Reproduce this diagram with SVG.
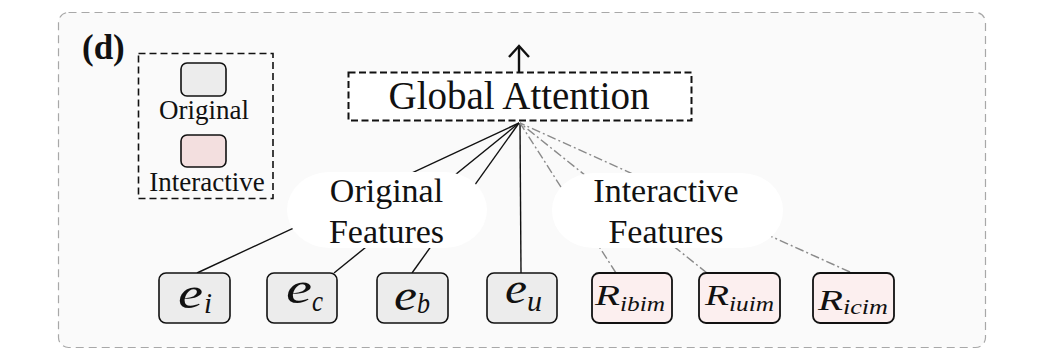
<svg xmlns="http://www.w3.org/2000/svg" width="1040" height="356" viewBox="0 0 1040 356">
  <style>
    .serif { font-family: "Liberation Serif", "Times New Roman", serif; fill: #111; }
    .math { font-family: "Liberation Serif", "Times New Roman", serif; font-style: italic; fill: #111; }
    .orig { fill: #ececec; stroke: #111; stroke-width: 1.6; }
    .inter { fill: #fcefef; stroke: #111; stroke-width: 1.8; }
    .solid { stroke: #111; stroke-width: 1.4; fill: none; }
    .dashdot { stroke: #8a8a8a; stroke-width: 1.4; fill: none; stroke-dasharray: 9 3 2 3; }
    .bubble { fill: #ffffff; stroke: none; }
  </style>

  <!-- panel frame -->
  <rect id="panel" x="58.5" y="12.5" width="927" height="335" rx="10" fill="#fafafa" stroke="#a8a8a8" stroke-width="1.2" stroke-dasharray="8 5"/>
  <text id="panel-label" class="serif" x="82" y="59" font-size="35" font-weight="bold">(d)</text>

  <!-- legend -->
  <g id="legend">
    <rect x="138.5" y="53.5" width="134.5" height="145" fill="none" stroke="#111" stroke-width="1.6" stroke-dasharray="7 4"/>
    <rect class="orig" x="181" y="63" width="45" height="33" rx="6"/>
    <text class="serif" x="204" y="119" font-size="27" text-anchor="middle">Original</text>
    <rect x="181" y="135" width="45" height="32" rx="6" fill="#f3dfdf" stroke="#111" stroke-width="1.6"/>
    <text class="serif" x="207" y="191" font-size="27" text-anchor="middle">Interactive</text>
  </g>

  <!-- connectors: all converge under the attention block -->
  <g id="connectors">
    <line class="solid" x1="197" y1="273" x2="519" y2="123"/>
    <line class="solid" x1="334" y1="273" x2="519" y2="123"/>
    <line class="solid" x1="412" y1="273" x2="519" y2="123"/>
    <line class="solid" x1="521" y1="273" x2="520" y2="123"/>
    <line class="dashdot" x1="616" y1="273" x2="520" y2="123"/>
    <line class="dashdot" x1="707" y1="273" x2="520" y2="123"/>
    <line class="dashdot" x1="850" y1="272" x2="520" y2="123"/>
    <!-- output arrow -->
    <line x1="519" y1="72" x2="519" y2="47" stroke="#111" stroke-width="2.4"/>
    <polyline points="509,57 519,46 529,57" fill="none" stroke="#111" stroke-width="2.4" stroke-linejoin="miter"/>
  </g>

  <!-- group labels on white bubbles -->
  <g id="original-features">
    <rect class="bubble" x="287" y="172" width="200" height="76" rx="42" ry="38"/>
    <text class="serif" x="386.5" y="202" font-size="34" text-anchor="middle">Original</text>
    <text class="serif" x="386.5" y="243" font-size="34" text-anchor="middle">Features</text>
  </g>
  <g id="interactive-features">
    <rect class="bubble" x="552" y="173" width="231" height="75" rx="42" ry="37"/>
    <text class="serif" x="666" y="202" font-size="34" text-anchor="middle">Interactive</text>
    <text class="serif" x="666" y="243" font-size="34" text-anchor="middle">Features</text>
  </g>

  <!-- attention block -->
  <g id="global-attention">
    <rect x="348.5" y="72.5" width="343" height="48" fill="#ffffff" stroke="#111" stroke-width="2" stroke-dasharray="7 3.5"/>
    <text class="serif" x="519" y="109" font-size="39" text-anchor="middle">Global Attention</text>
  </g>

  <!-- feature nodes -->
  <g id="node-ei">
    <rect class="orig" x="159" y="273" width="71" height="50" rx="7"/>
    <text class="math" x="178" y="308" font-size="44" textLength="25" lengthAdjust="spacingAndGlyphs">e</text>
    <text class="math" x="204" y="313" font-size="29" textLength="8" lengthAdjust="spacingAndGlyphs">i</text>
  </g>
  <g id="node-ec">
    <rect class="orig" x="267" y="273" width="70" height="50" rx="7"/>
    <text class="math" x="286" y="303" font-size="44" textLength="26" lengthAdjust="spacingAndGlyphs">e</text>
    <text class="math" x="312" y="311" font-size="29" textLength="11" lengthAdjust="spacingAndGlyphs">c</text>
  </g>
  <g id="node-eb">
    <rect class="orig" x="377" y="273" width="71" height="50" rx="7"/>
    <text class="math" x="394" y="310" font-size="44" textLength="23" lengthAdjust="spacingAndGlyphs">e</text>
    <text class="math" x="417" y="313" font-size="29" textLength="13" lengthAdjust="spacingAndGlyphs">b</text>
  </g>
  <g id="node-eu">
    <rect class="orig" x="487" y="273" width="70" height="50" rx="7"/>
    <text class="math" x="505" y="303" font-size="44" textLength="22" lengthAdjust="spacingAndGlyphs">e</text>
    <text class="math" x="527" y="311" font-size="29" textLength="15" lengthAdjust="spacingAndGlyphs">u</text>
  </g>
  <g id="node-ribim">
    <rect class="inter" x="592" y="273" width="80" height="50" rx="7"/>
    <text class="math" x="595" y="305" font-size="30" textLength="25" lengthAdjust="spacingAndGlyphs">R</text>
    <text class="math" x="620" y="311" font-size="21" textLength="45" lengthAdjust="spacingAndGlyphs">ibim</text>
  </g>
  <g id="node-riuim">
    <rect class="inter" x="699" y="273" width="81" height="50" rx="7"/>
    <text class="math" x="705" y="305" font-size="30" textLength="24" lengthAdjust="spacingAndGlyphs">R</text>
    <text class="math" x="729" y="311" font-size="21" textLength="45" lengthAdjust="spacingAndGlyphs">iuim</text>
  </g>
  <g id="node-ricim">
    <rect class="inter" x="813" y="273" width="81" height="50" rx="7"/>
    <text class="math" x="818" y="310" font-size="30" textLength="25" lengthAdjust="spacingAndGlyphs">R</text>
    <text class="math" x="843" y="314" font-size="21" textLength="45" lengthAdjust="spacingAndGlyphs">icim</text>
  </g>
</svg>
